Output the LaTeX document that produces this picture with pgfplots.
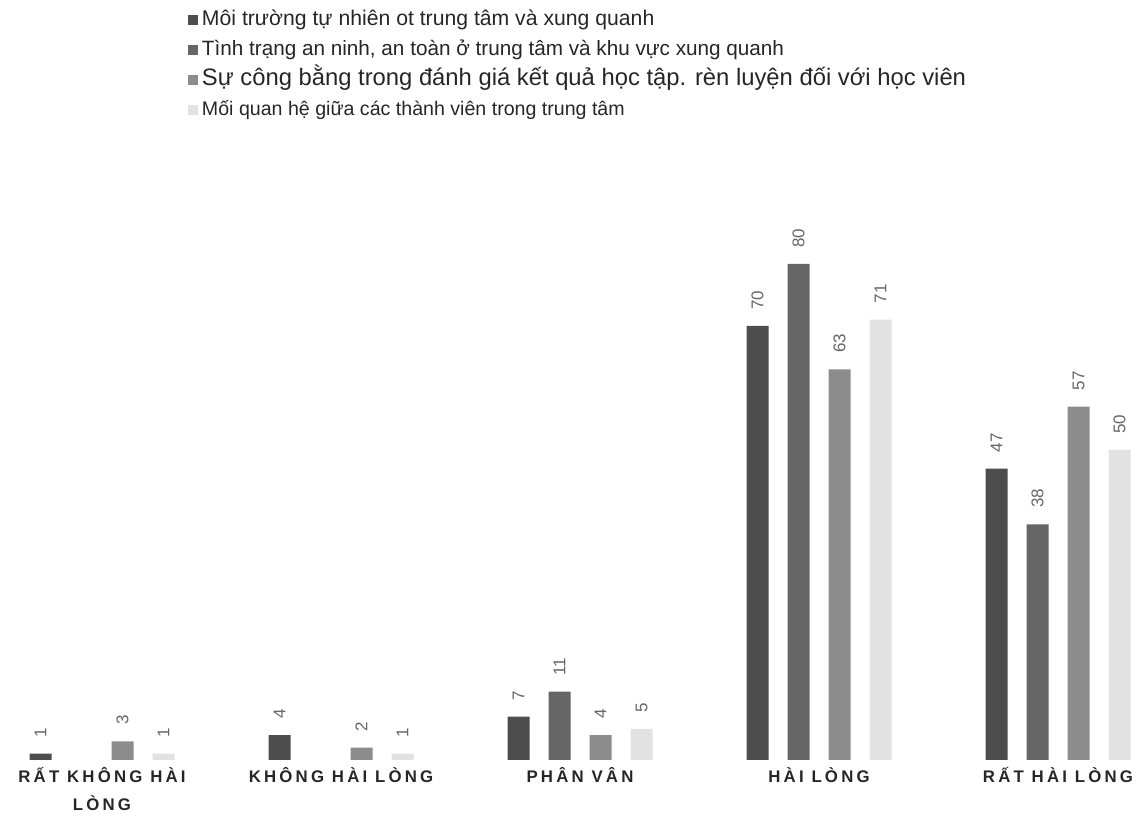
\documentclass[border=0pt]{standalone}
\usepackage{fontspec}
\setmainfont{Liberation Sans}
\newfontfamily\tickfont[LetterSpace=19]{Liberation Sans}
\usepackage{pgfplots}
\pgfplotsset{compat=1.18}
\definecolor{sA}{HTML}{4D4D4D}
\definecolor{sB}{HTML}{666666}
\definecolor{sC}{HTML}{8C8C8C}
\definecolor{sD}{HTML}{E2E2E2}
\newcommand{\vp}{\vphantom{Ấg}}
\begin{document}
\begin{tikzpicture}
\begin{axis}[
  ybar=9.5pt, bar width=11pt,
  width=568.5pt, height=280pt, scale only axis,
  xmin=-0.4268, xmax=4.3305, ymin=0, ymax=90.32,
  xtick={0,1,2,3,4},
  xticklabels={{\vp RẤT KHÔNG HÀI\\LÒNG},{\vp KHÔNG HÀI LÒNG},{\vp PHÂN VÂN},{\vp HÀI LÒNG},{\vp RẤT HÀI LÒNG}},
  ytick=\empty,
  axis line style={draw=none}, major tick length=0pt,
  xticklabel style={font=\tickfont\bfseries\fontsize{8.4}{14}\selectfont, align=center, text=black!85},
  nodes near coords,
  every node near coord/.append style={rotate=90, anchor=west, font=\fontsize{8.5}{9}\selectfont, text=black!60, inner xsep=8pt,
    /pgf/number format/assume math mode=true},
  legend style={at={(rel axis cs:0.165,1.345)}, anchor=north west, draw=none, fill=none, inner sep=0pt,
    font=\fontsize{10}{12}\selectfont, row sep=2.5pt, legend cell align=left, text=black!85,
    nodes={text height=8pt, text depth=2.5pt, inner ysep=1pt}},
  legend image code/.code={\fill[#1,draw=none] (0pt,-2.5pt) rectangle (5pt,2.5pt);},
  clip=false,
]
\addplot[fill=sA, draw=none] coordinates {(0,1) (1,4) (2,7) (3,70) (4,47)};
\addplot[fill=sB, draw=none] coordinates {(2,11) (3,80) (4,38)};
\addplot[fill=sC, draw=none] coordinates {(0,3) (1,2) (2,4) (3,63) (4,57)};
\addplot[fill=sD, draw=none] coordinates {(0,1) (1,1) (2,5) (3,71) (4,50)};
\legend{{\fontsize{10.6}{12}\selectfont Môi trường tự nhiên ot trung tâm và xung quanh},
  {\fontsize{10.35}{12}\selectfont Tình trạng an ninh, an toàn ở trung tâm và khu vực xung quanh},
  {\fontsize{11.9}{12}\selectfont Sự công bằng trong đánh giá kết quả học tập. rèn luyện đối với học viên},
  {\fontsize{9.8}{12}\selectfont Mối quan hệ giữa các thành viên trong trung tâm}}
\coordinate (bl) at (rel axis cs:0,-0.1304);
\coordinate (tr) at (rel axis cs:1,1.357);
\end{axis}
\pgfresetboundingbox
\path[use as bounding box] (bl) rectangle (tr);
\end{tikzpicture}
\end{document}
